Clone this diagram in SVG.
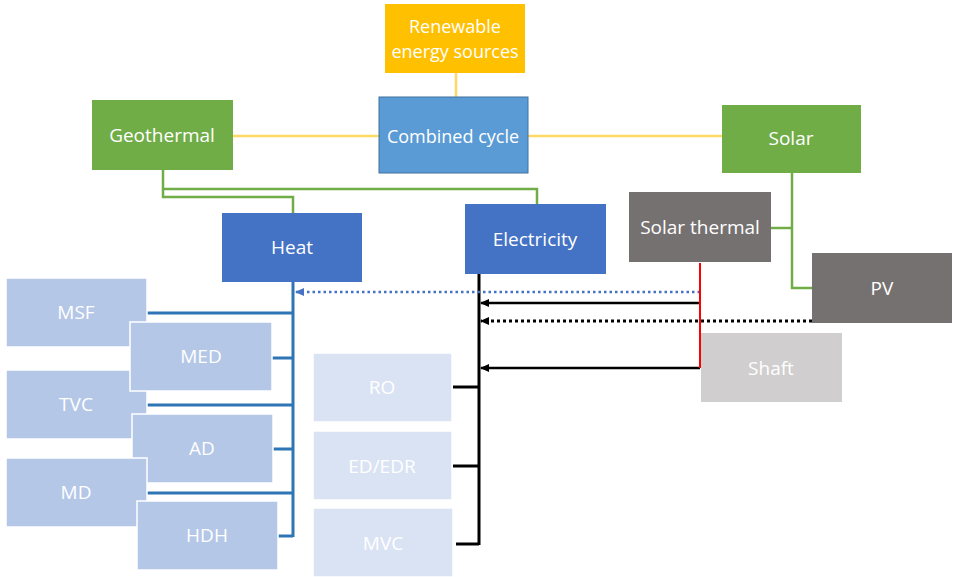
<svg xmlns="http://www.w3.org/2000/svg" width="953" height="577" viewBox="0 0 953 577">
<style>
text{font-family:"Open Sans","Noto Sans","Liberation Sans",sans-serif;font-size:19px;fill:#ffffff;text-anchor:middle;dominant-baseline:central}
.y{stroke:#FFD966;stroke-width:2.5;fill:none}
.g{stroke:#70AD47;stroke-width:2.5;fill:none}
.b{stroke:#2E75B6;stroke-width:3;fill:none}
.k{stroke:#000;stroke-width:3;fill:none}
.lb rect{fill:#B4C7E7;stroke:#fff;stroke-width:1.5}
.ll rect{fill:#DAE3F3;stroke:#fff;stroke-width:1.5}
</style>
<defs>
<marker id="ak" markerWidth="10" markerHeight="10" refX="8" refY="5" orient="auto" markerUnits="userSpaceOnUse">
<path d="M0,1 L9,5 L0,9 Z" fill="#000"/>
</marker>
<marker id="ab" markerWidth="10" markerHeight="10" refX="8" refY="5" orient="auto" markerUnits="userSpaceOnUse">
<path d="M0,1 L9,5 L0,9 Z" fill="#4472C4"/>
</marker>
</defs>
<rect width="953" height="577" fill="#fff"/>
<g id="connectors">
<path class="y" d="M456,73 V97"/>
<path class="y" d="M233,136 H379"/>
<path class="y" d="M528,136 H722"/>
<path class="g" d="M163,170 V197 H293 V213"/>
<path class="g" d="M163,189 H537 V204"/>
<path class="g" d="M792,173 V288 H812"/>
<path class="g" d="M771,228 H792"/>
<path class="b" d="M293,282 V537"/>
<path class="b" d="M147,313 H293"/>
<path class="b" d="M272,358 H293"/>
<path class="b" d="M147,405 H293"/>
<path class="b" d="M273,449 H293"/>
<path class="b" d="M147,493 H293"/>
<path class="b" d="M278,536 H293"/>
<path class="k" d="M479,274 V545"/>
<path class="k" d="M453,387 H479"/>
<path class="k" d="M453,466 H479"/>
<path class="k" d="M456,544 H479"/>
<path d="M700,292 H296" stroke="#4472C4" stroke-width="2.5" stroke-dasharray="2.5 3" fill="none" marker-end="url(#ab)"/>
<path d="M700,303 H481" stroke="#000" stroke-width="2.5" fill="none" marker-end="url(#ak)"/>
<path d="M812,321 H481" stroke="#000" stroke-width="3" stroke-dasharray="3 3" fill="none" marker-end="url(#ak)"/>
<path d="M700,368 H481" stroke="#000" stroke-width="2.5" fill="none" marker-end="url(#ak)"/>
<path d="M700,263 V368" stroke="#FF0000" stroke-width="2" fill="none"/>
</g>
<g id="renewable"><rect x="385" y="4" width="140" height="69" fill="#FFC000"/><text x="455" y="26" fill="#FFF2CC" style="font-size:18px">Renewable</text><text x="455" y="51" fill="#FFF2CC" style="font-size:18px">energy sources</text></g>
<g id="combined"><rect x="379" y="97" width="149" height="76" fill="#5B9BD5" stroke="#41719C" stroke-width="1"/><text x="453" y="136" style="font-size:18px">Combined cycle</text></g>
<g id="geothermal"><rect x="92" y="100" width="141" height="70" fill="#70AD47"/><text x="162" y="135">Geothermal</text></g>
<g id="solar"><rect x="722" y="105" width="139" height="68" fill="#70AD47"/><text x="791" y="138">Solar</text></g>
<g id="heat"><rect x="222" y="213" width="140" height="69" fill="#4472C4"/><text x="292" y="247">Heat</text></g>
<g id="electricity"><rect x="465" y="204" width="141" height="70" fill="#4472C4"/><text x="535" y="239">Electricity</text></g>
<g id="solarthermal"><rect x="629" y="192" width="142" height="70" fill="#767171"/><text x="700" y="227">Solar thermal</text></g>
<g id="pv"><rect x="812" y="253" width="140" height="70" fill="#767171"/><text x="882" y="288">PV</text></g>
<g id="shaft"><rect x="701" y="333" width="141" height="69" fill="#D0CECE"/><text x="771" y="368">Shaft</text></g>
<g id="msf" class="lb"><rect x="6" y="278" width="141" height="69"/><text x="76" y="312">MSF</text></g>
<g id="tvc" class="lb"><rect x="6" y="370" width="141" height="69"/><text x="76" y="404">TVC</text></g>
<g id="med" class="lb"><rect x="130" y="322" width="142" height="69"/><text x="201" y="356">MED</text></g>
<g id="ad" class="lb"><rect x="132" y="414" width="141" height="69"/><text x="202" y="448">AD</text></g>
<g id="md" class="lb"><rect x="6" y="458" width="141" height="69"/><text x="76" y="492">MD</text></g>
<g id="hdh" class="lb"><rect x="137" y="501" width="141" height="69"/><text x="207" y="535">HDH</text></g>
<g id="ro" class="ll"><rect x="313" y="353" width="139" height="69"/><text x="382" y="387">RO</text></g>
<g id="ededr" class="ll"><rect x="313" y="431" width="139" height="69"/><text x="382" y="466">ED/EDR</text></g>
<g id="mvc" class="ll"><rect x="313" y="508" width="140" height="69"/><text x="383" y="543">MVC</text></g>
</svg>
